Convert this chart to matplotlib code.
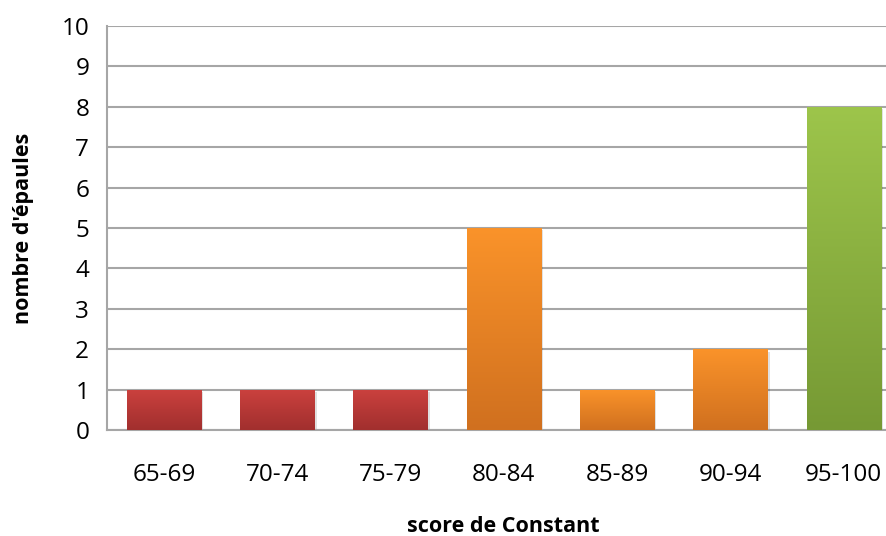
import numpy as np
import matplotlib
matplotlib.use("Agg")
import matplotlib.pyplot as plt
from matplotlib.colors import LinearSegmentedColormap

# Data
categories = ["65-69", "70-74", "75-79", "80-84", "85-89", "90-94", "95-100"]
counts = [1, 1, 1, 5, 1, 2, 8]
# (top colour, bottom colour) per bar
bar_colors = [("#cb413e", "#a12f2e"), ("#cb413e", "#a12f2e"), ("#cb413e", "#a12f2e"),
              ("#fa932a", "#d0701f"), ("#fa932a", "#d0701f"), ("#fa932a", "#d0701f"),
              ("#9dc54b", "#769934")]

plt.rcParams['font.family'] = ['Open Sans', 'DejaVu Sans']

fig = plt.figure(figsize=(8.86, 5.36), dpi=100)
# plot area runs slightly past the right edge of the picture, as in the original
ax = fig.add_axes([0.1211, 0.1978, 0.895, 0.7537])

x = np.arange(len(categories))
bars = ax.bar(x, counts, width=0.655, color='none', edgecolor='none', zorder=3)

grad = np.linspace(1, 0, 256).reshape(-1, 1)
for b, (top, bottom) in zip(bars, bar_colors):
    x0, y0 = b.get_x(), b.get_y()
    w, h = b.get_width(), b.get_height()
    # soft shadow
    sh = plt.Rectangle((x0 + 0.02, y0 - 0.06), w, h, facecolor='#000000', alpha=0.12,
                       edgecolor='none', zorder=2)
    ax.add_patch(sh)
    cmap = LinearSegmentedColormap.from_list("g", [bottom, top])
    im = ax.imshow(grad, cmap=cmap, extent=[x0, x0 + w, y0, y0 + h],
                   aspect='auto', zorder=3, interpolation='bilinear')
    im.set_clip_path(b)

ax.set_xlim(-0.5, len(categories) - 0.5)
ax.set_ylim(0, 10)
ax.set_yticks(range(0, 11))
ax.set_xticks(x)
ax.set_xticklabels(categories)

ax.yaxis.grid(True, color='#a6a6a6', linewidth=1.5, zorder=0)
ax.set_axisbelow(True)
for side in ['top', 'right']:
    ax.spines[side].set_visible(False)
for side in ['left', 'bottom']:
    ax.spines[side].set_color('#a6a6a6')
    ax.spines[side].set_linewidth(1.5)

ax.tick_params(axis='both', length=0, labelsize=17.5, colors='black')
ax.tick_params(axis='x', pad=24)
ax.tick_params(axis='y', pad=13)

ax.set_xlabel("score de Constant", fontsize=15.5, fontweight='bold', labelpad=21)
ax.set_ylabel("nombre d'épaules", fontsize=15.5, fontweight='bold', labelpad=20)

fig.savefig("out.png", dpi=100)
